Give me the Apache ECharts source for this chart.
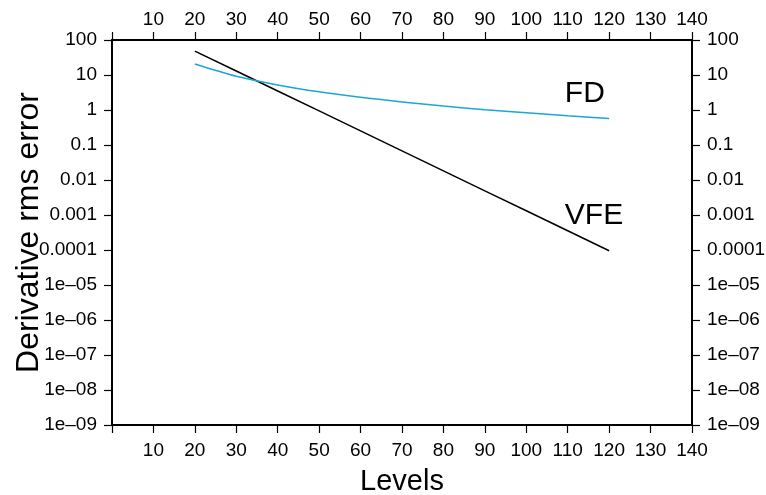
<!DOCTYPE html>
<html>
<head>
<meta charset="utf-8">
<script src="https://cdn.jsdelivr.net/npm/echarts@6/dist/echarts.min.js"></script>
<style>
html,body{margin:0;padding:0;background:#fff;}
#chart{width:766px;height:495px;}
</style>
</head>
<body>
<div id="chart"></div>
<script>
// Data
var levels = [20, 30, 40, 50, 60, 70, 80, 90, 100, 110, 120];
var vfeError = [48, 13.0, 3.5, 0.94, 0.253, 0.068, 0.0183, 0.0049, 0.00132, 0.000355, 0.000095];
var fdError = [20.6, 9.2, 5.2, 3.3, 2.3, 1.7, 1.3, 1.02, 0.83, 0.68, 0.57];
var xTickLabels = ['', '10', '20', '30', '40', '50', '60', '70', '80', '90', '100', '110', '120', '130', '140'];
var yTickLabels = ['1e\u201309', '1e\u201308', '1e\u201307', '1e\u201306', '1e\u201305', '0.0001', '0.001', '0.01', '0.1', '1', '10', '100'];
var seriesNames = ['VFE', 'FD'];
var labelPos = { VFE: [109.3, 0.00094], FD: [109.3, 2.87] };

var FONT = '"Liberation Sans", Arial, Helvetica, sans-serif';
var chart = echarts.init(document.getElementById('chart'), null, { renderer: 'canvas' });

function xFmt(v) { var i = Math.round(v / 10); return xTickLabels[i] !== undefined ? xTickLabels[i] : ''; }
function yFmt(v) { var i = Math.round(Math.log10(v)) + 9; return yTickLabels[i] !== undefined ? yTickLabels[i] : ''; }

var axisLine = { show: true, onZero: false, lineStyle: { color: '#000', width: 2 } };
var axisTick = { show: true, inside: false, length: 8, lineStyle: { color: '#000', width: 1.2 } };
var lab = { color: '#000', fontFamily: FONT, fontSize: 19 };

function xAxisDef(pos, showName) {
  return {
    type: 'value', position: pos, min: 0, max: 140, interval: 10,
    axisLine: axisLine, axisTick: axisTick, splitLine: { show: false },
    axisLabel: Object.assign({ formatter: xFmt, margin: pos === 'top' ? 11 : 16 }, lab),
    name: showName ? 'Levels' : '', nameLocation: 'middle', nameGap: 42, nameMoveOverlap: false,
    nameTextStyle: { color: '#000', fontFamily: FONT, fontSize: 29 }
  };
}
function yAxisDef(pos, showName) {
  return {
    type: 'log', logBase: 10, position: pos, min: 1e-9, max: 100, interval: 1,
    axisLine: axisLine, axisTick: axisTick, splitLine: { show: false }, minorTick: { show: false },
    axisLabel: Object.assign({ formatter: yFmt, margin: 15 }, lab),
    name: showName ? 'Derivative rms error' : '', nameLocation: 'middle', nameGap: 67, nameRotate: 90,
    nameMoveOverlap: false,
    nameTextStyle: { color: '#000', fontFamily: FONT, fontSize: 32 }
  };
}

function mkLabel(name) {
  return {
    symbol: 'circle', symbolSize: 0.01, silent: true,
    label: { show: true, position: 'right', distance: 0, formatter: name, color: '#000', fontFamily: FONT, fontSize: 30 },
    data: [{ coord: labelPos[name] }]
  };
}

chart.setOption({
  animation: false,
  backgroundColor: '#fff',
  grid: { left: 112, right: 74, top: 40, bottom: 70, containLabel: false, outerBoundsMode: 'none' },
  xAxis: [xAxisDef('bottom', true), xAxisDef('top', false)],
  yAxis: [yAxisDef('left', true), yAxisDef('right', false)],
  series: [
    {
      name: seriesNames[0], type: 'line', xAxisIndex: 0, yAxisIndex: 0,
      data: levels.map(function (x, i) { return [x, vfeError[i]]; }),
      showSymbol: false, symbol: 'none', lineStyle: { color: '#000', width: 1.5 },
      markPoint: mkLabel('VFE')
    },
    {
      name: seriesNames[1], type: 'line', smooth: 0.3, xAxisIndex: 0, yAxisIndex: 0,
      data: levels.map(function (x, i) { return [x, fdError[i]]; }),
      showSymbol: false, symbol: 'none', lineStyle: { color: '#1ba6d8', width: 1.5 },
      markPoint: mkLabel('FD')
    }
  ]
});
</script>
</body>
</html>
